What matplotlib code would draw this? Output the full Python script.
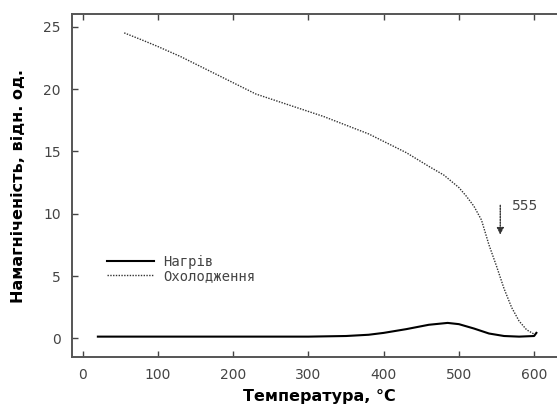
import matplotlib
matplotlib.use("Agg")
import matplotlib.pyplot as plt

# heating curve (solid)
heat_t = [20, 100, 200, 300, 350, 380, 400, 430, 460, 485, 500, 520, 540, 560, 580, 600, 603]
heat_m = [0.15, 0.15, 0.15, 0.15, 0.2, 0.3, 0.45, 0.75, 1.1, 1.25, 1.15, 0.8, 0.4, 0.2, 0.15, 0.2, 0.45]

# cooling curve (dotted)
cool_t = [55, 80, 100, 130, 160, 200, 230, 260, 290, 320, 350, 380, 400, 430, 460, 480,
          500, 510, 520, 530, 540, 550, 560, 570, 580, 590, 600]
cool_m = [24.5, 23.9, 23.4, 22.6, 21.7, 20.5, 19.6, 19.0, 18.4, 17.8, 17.1, 16.4, 15.8, 14.9,
          13.8, 13.1, 12.1, 11.4, 10.6, 9.5, 7.5, 5.8, 4.0, 2.5, 1.4, 0.7, 0.35]

curie_t = 555
labels = ["Нагрів", "Охолодження"]

fig = plt.figure(figsize=(5.57, 4.05), dpi=100)
# right spine sits just past the image edge, like the cropped original
ax = fig.add_axes([0.129, 0.118, 0.905, 0.847])

ax.plot(heat_t, heat_m, color="black", lw=1.5, label=labels[0])
ax.plot(cool_t, cool_m, color="#333333", lw=1.0, ls=(0, (1, 1)), label=labels[1])

ax.annotate("", xy=(curie_t, 8.1), xytext=(curie_t, 10.9),
            arrowprops=dict(arrowstyle="-|>", color="#333333", lw=1.0,
                            ls=(0, (1, 1)), mutation_scale=10))
ax.text(curie_t + 15, 10.6, str(curie_t), color="#444444", fontsize=10, va="center")

ax.set_xlim(-14.6, 655.6)
ax.set_ylim(-1.5, 26)
ax.set_xticks(range(0, 700, 100))
ax.set_yticks(range(0, 30, 5))
ax.tick_params(direction="in", top=True, right=True, length=4, width=1,
               colors="#444444", labelsize=10, pad=8)
for s in ax.spines.values():
    s.set_color("#555555")
    s.set_linewidth(1.4)

ax.set_xlabel("Температура, °C", fontweight="bold", fontsize=11.5)
ax.set_ylabel("Намагніченість, відн. од.", fontweight="bold", fontsize=11.5)
ax.xaxis.set_label_coords(0.491, -0.093)
ax.yaxis.set_label_coords(-0.09, 0.5)

ax.legend(frameon=False, loc="upper left", bbox_to_anchor=(0.044, 0.335),
          prop={"family": "DejaVu Sans Mono", "size": 10}, handlelength=3.4,
          handletextpad=0.65, labelspacing=0.0, labelcolor="#444444")

fig.savefig("out.png", dpi=100)
